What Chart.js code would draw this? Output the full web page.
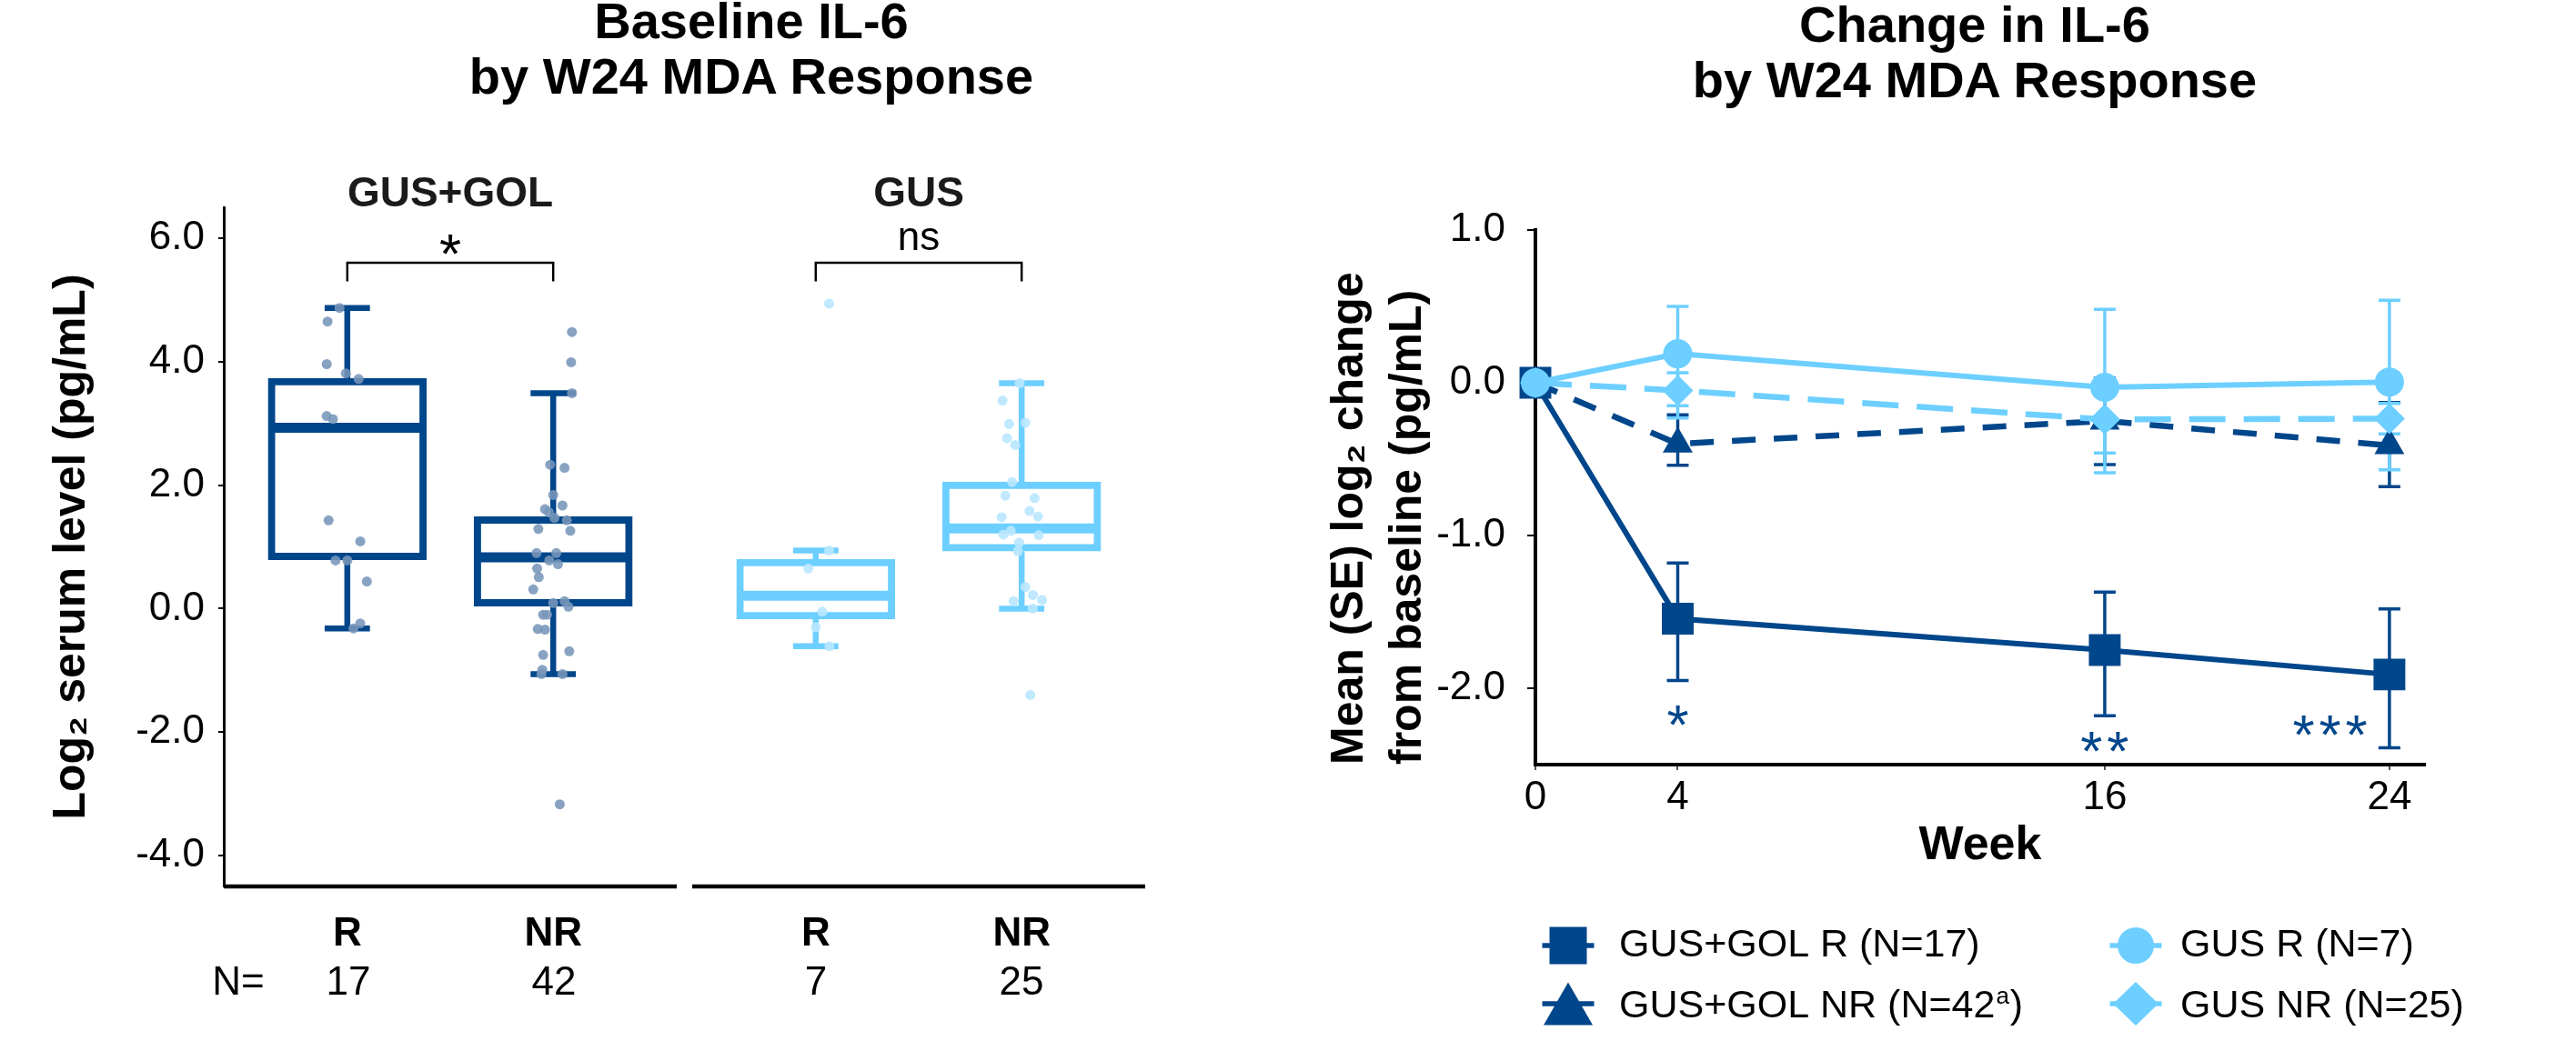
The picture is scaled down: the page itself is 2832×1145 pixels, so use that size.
<!DOCTYPE html>
<html>
<head>
<meta charset="utf-8">
<script src="https://cdn.jsdelivr.net/npm/chart.js"></script>
<style>
html, body { margin: 0; padding: 0; background: #fff; }
#wrap { position: relative; width: 2832px; height: 1145px; overflow: hidden; font-family: "Liberation Sans", Arial, Helvetica, sans-serif; }
.cw { position: absolute; top: 0; height: 1145px; }
.t { position: absolute; white-space: nowrap; transform: translateX(-50%); }
</style>
</head>
<body>
<div id="wrap">
  <div class="cw" style="left:0;width:1400px"><canvas id="cL"></canvas></div>
  <div class="cw" style="left:1400px;width:1432px"><canvas id="cR"></canvas></div>
</div>
<script>
// ---------------- DATA: baseline IL-6 box plots ----------------
const groups = ['GUS+GOL', 'GUS'];
const boxCategories = ['GUS+GOL R', 'GUS+GOL NR', 'GUS R', 'GUS NR'];
const boxResponse = ['R', 'NR', 'R', 'NR'];
const boxGroup = [0, 0, 1, 1];
const boxN = [17, 42, 7, 25];
const boxLow    = [-0.32, -1.06, -0.61, 0.00];
const boxQ1     = [ 0.79,  0.04, -0.17, 0.93];
const boxMedian = [ 2.93,  0.83,  0.21, 1.30];
const boxQ3     = [ 3.73,  1.49,  0.80, 2.05];
const boxHigh   = [ 4.87,  3.49,  0.94, 3.65];
const leftTicks = [-4, -2, 0, 2, 4, 6];

// individual values (y) with horizontal jitter (category units)
const ptsGusGolR_y  = [4.87, 4.65, 3.96, 3.81, 3.72, 3.12, 3.07, 1.43, 1.09, 0.78, 0.78, 0.44, -0.24, -0.32];
const ptsGusGolR_dx = [-0.038, -0.096, -0.10, -0.007, 0.055, -0.10, -0.07, -0.091, 0.063, -0.057, 0.0, 0.095, 0.063, 0.03];
const ptsGusGolNR_y  = [4.48, 3.99, 3.49, 2.33, 2.28, 1.84, 1.67, 1.61, 1.56, 1.47, 1.43, 1.29, 1.26, 0.90, 0.90, 0.78, 0.72, 0.65, 0.51, 0.31, 0.09, 0.12, 0.03, -0.10, -0.10, -0.33, -0.34, -0.69, -0.75, -0.99, -1.06, -1.06, -3.17];
const ptsGusGolNR_dx = [0.091, 0.087, 0.091, -0.015, 0.055, 0.0, 0.045, -0.04, -0.021, 0.006, 0.066, -0.072, 0.083, -0.081, 0.015, -0.019, 0.023, -0.078, -0.07, -0.097, 0.0, 0.055, 0.074, -0.049, -0.03, -0.075, -0.04, 0.078, -0.049, -0.053, -0.057, 0.045, 0.032];
const ptsGusR_y  = [4.94, 0.94, 0.65, -0.05, -0.30, -0.61];
const ptsGusR_dx = [0.065, 0.065, -0.036, 0.032, 0.0, 0.067];
const ptsGusNR_y  = [3.65, 3.37, 2.99, 3.01, 2.76, 2.65, 2.05, 1.83, 1.79, 1.58, 1.49, 1.48, 1.26, 1.20, 1.19, 1.07, 0.93, 0.35, 0.22, 0.14, 0.12, 0.00, -1.40];
const ptsGusNR_dx = [-0.01, -0.093, -0.061, 0.018, -0.071, -0.031, -0.046, -0.079, 0.063, 0.038, 0.079, -0.097, -0.053, -0.089, 0.083, -0.012, -0.018, 0.018, 0.055, 0.099, -0.039, 0.054, 0.042];
const sigLeft = ['*', 'ns'];

// ---------------- DATA: change in IL-6 ----------------
const weeks = [0, 4, 16, 24];
const weekTicks = [0, 4, 16, 24];
const changeTicks = [-2, -1, 0, 1];
const gusGolR    = [0, -1.545, -1.75, -1.91];
const gusGolR_lo = [null, -1.95, -2.18, -2.39];
const gusGolR_hi = [null, -1.18, -1.37, -1.48];
const gusGolNR    = [0, -0.40, -0.25, -0.41];
const gusGolNR_lo = [null, -0.54, -0.535, -0.68];
const gusGolNR_hi = [null, -0.21, 0.03, -0.13];
const gusR    = [0, 0.19, -0.03, 0.005];
const gusR_lo = [null, -0.15, -0.59, -0.57];
const gusR_hi = [null, 0.50, 0.48, 0.54];
const gusNR    = [0, -0.05, -0.24, -0.235];
const gusNR_lo = [null, -0.23, -0.46, -0.335];
const gusNR_hi = [null, 0.065, -0.02, -0.135];
const sigWeekText = ['*', '**', '***'];

// ---------------- STYLE / LAYOUT ----------------
const NAVY = '#00468B';
const SKY = '#6DCFFF';
const NAVY_PT = 'rgba(120,150,186,0.88)';
const SKY_PT = 'rgba(185,231,255,0.9)';
const FONT = '"Liberation Sans", Arial, Helvetica, sans-serif';
Chart.defaults.font.family = FONT;
Chart.defaults.color = '#000';

const FACET_SPAN = 2.2, FACET_GAP = 0.075;
const facetStart = g => g * (FACET_SPAN + FACET_GAP) + 0.4;
const boxPos = boxCategories.map((c, i) => facetStart(boxGroup[i]) + 0.6 + (boxResponse[i] === 'R' ? 0 : 1));
const boxColors = boxGroup.map(g => g === 0 ? NAVY : SKY);
const xMaxL = facetStart(groups.length - 1) + FACET_SPAN;

const ptsY = [ptsGusGolR_y, ptsGusGolNR_y, ptsGusR_y, ptsGusNR_y];
const ptsDx = [ptsGusGolR_dx, ptsGusGolNR_dx, ptsGusR_dx, ptsGusNR_dx];
const ptsData = [], ptsColor = [];
ptsY.forEach((arr, i) => arr.forEach((v, j) => {
  ptsData.push({x: boxPos[i] + ptsDx[i][j], y: v});
  ptsColor.push(boxGroup[i] === 0 ? NAVY_PT : SKY_PT);
}));

function inkText(ctx, text, cx, cy) {
  const m = ctx.measureText(text);
  ctx.fillText(text, cx, cy + (m.actualBoundingBoxAscent - m.actualBoundingBoxDescent) / 2);
}
function stars(ctx, n, cx, cy, pitch) {
  for (let k = 0; k < n; k++) inkText(ctx, '*', cx + (k - (n - 1) / 2) * pitch, cy);
}

// whiskers, caps and medians drawn right after the IQR bars
const boxExtras = {
  id: 'boxExtras',
  afterDatasetDraw(chart, args) {
    if (chart.data.datasets[args.index].type !== 'bar') return;
    const {ctx, scales: {x, y}} = chart;
    const unit = x.getPixelForValue(1) - x.getPixelForValue(0);
    ctx.save();
    ctx.lineCap = 'butt';
    boxCategories.forEach((c, i) => {
      const px = x.getPixelForValue(boxPos[i]);
      ctx.strokeStyle = boxColors[i];
      ctx.lineWidth = 6.5;
      ctx.beginPath();
      ctx.moveTo(px, y.getPixelForValue(boxQ3[i])); ctx.lineTo(px, y.getPixelForValue(boxHigh[i]));
      ctx.moveTo(px, y.getPixelForValue(boxQ1[i])); ctx.lineTo(px, y.getPixelForValue(boxLow[i]));
      const cw = 0.11 * unit;
      ctx.moveTo(px - cw, y.getPixelForValue(boxHigh[i])); ctx.lineTo(px + cw, y.getPixelForValue(boxHigh[i]));
      ctx.moveTo(px - cw, y.getPixelForValue(boxLow[i])); ctx.lineTo(px + cw, y.getPixelForValue(boxLow[i]));
      ctx.stroke();
      const bw = 0.38 * unit;
      ctx.lineWidth = 11;
      ctx.beginPath();
      ctx.moveTo(px - bw, y.getPixelForValue(boxMedian[i])); ctx.lineTo(px + bw, y.getPixelForValue(boxMedian[i]));
      ctx.stroke();
    });
    ctx.restore();
  }
};

const facetAxes = {
  id: 'facetAxes',
  afterDraw(chart) {
    const {ctx, chartArea, scales: {x}} = chart;
    ctx.save();
    ctx.fillStyle = '#000';
    groups.forEach((g, gi) => {
      const x0 = x.getPixelForValue(facetStart(gi));
      const x1 = x.getPixelForValue(facetStart(gi) + FACET_SPAN);
      ctx.fillRect(x0, chartArea.bottom - 2.25, x1 - x0, 4.5);
    });
    ctx.restore();
  }
};

const sigBrackets = {
  id: 'sigBrackets',
  afterDraw(chart) {
    const {ctx, scales: {x, y}} = chart;
    ctx.save();
    ctx.strokeStyle = '#000';
    ctx.fillStyle = '#000';
    ctx.lineWidth = 2.5;
    ctx.textAlign = 'center';
    groups.forEach((g, gi) => {
      const idx = boxGroup.map((v, i) => v === gi ? i : -1).filter(i => i >= 0);
      const x0 = x.getPixelForValue(boxPos[idx[0]]), x1 = x.getPixelForValue(boxPos[idx[1]]);
      const yt = y.getPixelForValue(5.6), yb = y.getPixelForValue(5.3);
      ctx.beginPath();
      ctx.moveTo(x0, yb); ctx.lineTo(x0, yt); ctx.lineTo(x1, yt); ctx.lineTo(x1, yb);
      ctx.stroke();
      const lab = sigLeft[gi];
      if (/^\*+$/.test(lab)) {
        ctx.font = '62px ' + FONT;
        stars(ctx, lab.length, (x0 + x1) / 2, yt - 20, 29);
      } else {
        ctx.font = '44px ' + FONT;
        inkText(ctx, lab, (x0 + x1) / 2, yt - 26);
      }
    });
    ctx.restore();
  }
};

new Chart(document.getElementById('cL'), {
  type: 'bar',
  data: {
    datasets: [
      { type: 'scatter', label: 'Individual values', data: ptsData, backgroundColor: ptsColor,
        pointRadius: 5.5, pointHoverRadius: 5.5, pointBorderWidth: 0, order: 0, clip: false },
      { type: 'bar', label: 'IQR', data: boxCategories.map((c, i) => ({x: boxPos[i], y: [boxQ1[i], boxQ3[i]]})),
        backgroundColor: '#fff', borderColor: boxColors, borderWidth: 8, borderSkipped: false,
        barThickness: 174, grouped: false, order: 1 }
    ]
  },
  options: {
    responsive: true, maintainAspectRatio: false, animation: false, devicePixelRatio: 1, events: [],
    layout: { padding: { left: 0, right: 141, top: 228, bottom: 0 } },
    plugins: { legend: { display: false }, tooltip: { enabled: false }, title: { display: false } },
    scales: {
      x: {
        type: 'linear', min: 0.4, max: xMaxL, offset: false,
        grid: { display: false }, border: { display: false },
        afterBuildTicks: s => { s.ticks = boxPos.map(v => ({value: v})); },
        ticks: { autoSkip: false, maxRotation: 0, padding: 18, color: '#000',
                 font: { size: 44, weight: 'bold' }, callback: (v, i) => boxResponse[i] },
        afterFit: s => { s.height = 170; }
      },
      y: {
        min: -4.5, max: 6.5,
        afterBuildTicks: s => { s.ticks = leftTicks.map(v => ({value: v})); },
        ticks: { padding: 15, color: '#000', font: { size: 44 }, callback: v => v.toFixed(1) },
        grid: { display: true, drawOnChartArea: false, drawTicks: true, tickLength: 6, color: '#000', lineWidth: 2 },
        border: { display: true, color: '#000', width: 3 },
        title: { display: true, text: 'Log\u2082 serum level (pg/mL)', color: '#000',
                 font: { size: 50, weight: 'bold' }, padding: { top: 49, bottom: 0 } },
        afterFit: s => { s.width = 246; }
      }
    }
  },
  plugins: [boxExtras, facetAxes, sigBrackets]
});

// ---------------- right chart ----------------
const errorBars = {
  id: 'errorBars',
  beforeDatasetsDraw(chart) {
    const {ctx, scales: {x, y}} = chart;
    ctx.save();
    ctx.setLineDash([]);
    ctx.lineWidth = 3.5;
    chart.data.datasets.forEach(ds => {
      if (!ds.errLo) return;
      ctx.strokeStyle = ds.borderColor;
      ds.data.forEach((p, i) => {
        const lo = ds.errLo[i], hi = ds.errHi[i];
        if (lo == null || hi == null) return;
        const px = x.getPixelForValue(p.x), p0 = y.getPixelForValue(lo), p1 = y.getPixelForValue(hi);
        ctx.beginPath();
        ctx.moveTo(px, p0); ctx.lineTo(px, p1);
        ctx.moveTo(px - 12, p0); ctx.lineTo(px + 12, p0);
        ctx.moveTo(px - 12, p1); ctx.lineTo(px + 12, p1);
        ctx.stroke();
      });
    });
    ctx.restore();
  }
};

const sigMarks = { x: [4, 16, 22.33], y: [-2.18, -2.35, -2.245] };
const sigStars = {
  id: 'sigStars',
  afterDraw(chart) {
    const {ctx, scales: {x, y}} = chart;
    ctx.save();
    ctx.fillStyle = NAVY;
    ctx.textAlign = 'center';
    ctx.font = '62px ' + FONT;
    sigWeekText.forEach((t, i) => stars(ctx, t.length, x.getPixelForValue(sigMarks.x[i]), y.getPixelForValue(sigMarks.y[i]), 29));
    ctx.restore();
  }
};

const legendOrder = ['GUS+GOL R (N=17)', 'GUS R (N=7)', 'GUS+GOL NR (N=42\u1d43)', 'GUS NR (N=25)'];
const legendBox = { markerX: [324, 948], textX: [380, 997], markerY: [1040, 1104], baseY: [1052, 1119] };
function legendMarker(ctx, style, cx, cy) {
  ctx.beginPath();
  if (style === 'rect') ctx.rect(cx - 20.5, cy - 20.5, 41, 41);
  else if (style === 'triangle') { ctx.moveTo(cx, cy - 23.5); ctx.lineTo(cx + 27, cy + 23.5); ctx.lineTo(cx - 27, cy + 23.5); ctx.closePath(); }
  else if (style === 'circle') ctx.arc(cx, cy, 20, 0, Math.PI * 2);
  else { ctx.moveTo(cx, cy - 24); ctx.lineTo(cx + 25, cy); ctx.lineTo(cx, cy + 24); ctx.lineTo(cx - 25, cy); ctx.closePath(); }
  ctx.fill();
  ctx.fillRect(cx - 28.5, cy - 2.75, 57, 5.5);
}
const customLegend = {
  id: 'customLegend',
  afterDraw(chart) {
    const {ctx} = chart;
    ctx.save();
    legendOrder.forEach((lab, k) => {
      const ds = chart.data.datasets.find(d => d.label === lab);
      if (!ds) return;
      const col = k % 2, row = Math.floor(k / 2);
      ctx.fillStyle = ds.backgroundColor;
      legendMarker(ctx, ds.pointStyle, legendBox.markerX[col], legendBox.markerY[row]);
      ctx.fillStyle = '#000';
      ctx.textAlign = 'left';
      ctx.textBaseline = 'alphabetic';
      let tx = legendBox.textX[col];
      const by = legendBox.baseY[row];
      const parts = lab.split('\u1d43');
      ctx.font = '43px ' + FONT;
      ctx.fillText(parts[0], tx, by);
      tx += ctx.measureText(parts[0]).width;
      if (parts.length > 1) {
        ctx.font = '26px ' + FONT;
        ctx.fillText('a', tx + 1, by - 15);
        tx += ctx.measureText('a').width + 2;
        ctx.font = '43px ' + FONT;
        ctx.fillText(parts[1], tx, by);
      }
    });
    ctx.restore();
  }
};

const pts = arr => weeks.map((w, i) => ({x: w, y: arr[i]}));
new Chart(document.getElementById('cR'), {
  type: 'line',
  data: {
    datasets: [
      { label: 'GUS+GOL R (N=17)', data: pts(gusGolR), errLo: gusGolR_lo, errHi: gusGolR_hi,
        borderColor: NAVY, backgroundColor: NAVY, borderWidth: 6, pointStyle: 'rect', pointRadius: 24.7,
        pointBorderWidth: 0, tension: 0, clip: false, order: 3 },
      { label: 'GUS+GOL NR (N=42\u1d43)', data: pts(gusGolNR), errLo: gusGolNR_lo, errHi: gusGolNR_hi,
        borderColor: NAVY, backgroundColor: NAVY, borderWidth: 6.5, borderDash: [26, 20], pointStyle: 'triangle', pointRadius: 19,
        pointBorderWidth: 0, tension: 0, clip: false, order: 2 },
      { label: 'GUS NR (N=25)', data: pts(gusNR), errLo: gusNR_lo, errHi: gusNR_hi,
        borderColor: SKY, backgroundColor: SKY, borderWidth: 6.5, borderDash: [40, 20], pointStyle: 'rectRot', pointRadius: 17,
        pointBorderWidth: 0, tension: 0, clip: false, order: 1 },
      { label: 'GUS R (N=7)', data: pts(gusR), errLo: gusR_lo, errHi: gusR_hi,
        borderColor: SKY, backgroundColor: SKY, borderWidth: 6, pointStyle: 'circle', pointRadius: 16,
        pointBorderWidth: 0, tension: 0, clip: false, order: 0 }
    ]
  },
  options: {
    responsive: true, maintainAspectRatio: false, animation: false, devicePixelRatio: 1, events: [],
    layout: { padding: { left: 0, right: 166, top: 253, bottom: 0 } },
    plugins: { legend: { display: false }, tooltip: { enabled: false }, title: { display: false } },
    scales: {
      x: {
        type: 'linear', min: 0, max: 25,
        afterBuildTicks: s => { s.ticks = weekTicks.map(v => ({value: v})); },
        ticks: { autoSkip: false, maxRotation: 0, padding: 4, color: '#000', font: { size: 44 }, callback: v => String(v) },
        grid: { display: true, drawOnChartArea: false, drawTicks: true, tickLength: 6, color: '#555', lineWidth: 2 },
        border: { display: true, color: '#000', width: 4 },
        title: { display: true, text: 'Week', color: '#000', font: { size: 52, weight: 'bold' }, padding: { top: 0, bottom: 183 } },
        afterFit: s => { s.height = 304; }
      },
      y: {
        min: -2.5, max: 1,
        afterBuildTicks: s => { s.ticks = changeTicks.map(v => ({value: v})); },
        ticks: { padding: 24, color: '#000', font: { size: 44 }, callback: v => v.toFixed(1) },
        grid: { display: true, drawOnChartArea: false, drawTicks: true, tickLength: 9, color: '#000', lineWidth: 2 },
        border: { display: true, color: '#000', width: 4 },
        title: { display: true, align: 'start', text: ['Mean (SE) log\u2082 change', 'from baseline (pg/mL)'], color: '#000',
                 font: { size: 50, weight: 'bold', lineHeight: 1.28 }, padding: { top: 52, bottom: 0 } },
        afterFit: s => { s.width = 288; }
      }
    }
  },
  plugins: [errorBars, sigStars, customLegend]
});

// ---------------- HTML text (titles, facet labels, N row) ----------------
const wrap = document.getElementById('wrap');
function addText(txt, cx, baseline, size, weight, color) {
  const d = document.createElement('div');
  d.className = 't';
  d.textContent = txt;
  d.style.left = cx + 'px';
  d.style.top = (baseline - 0.8465 * size) + 'px';
  d.style.fontSize = size + 'px';
  d.style.lineHeight = size + 'px';
  d.style.fontWeight = weight;
  d.style.color = color;
  wrap.appendChild(d);
}
addText('Baseline IL-6', 826, 42, 56, 'bold', '#000');
addText('by W24 MDA Response', 826, 103, 56, 'bold', '#000');
addText('Change in IL-6', 2171, 46, 56, 'bold', '#000');
addText('by W24 MDA Response', 2171, 107, 56, 'bold', '#000');
addText(groups[0], 495, 227, 46, 'bold', '#1a1a1a');
addText(groups[1], 1010, 227, 46, 'bold', '#1a1a1a');
addText('N=', 262, 1094, 44, 'normal', '#000');
const nX = [383, 609, 897, 1123];
boxN.forEach((n, i) => addText(String(n), nX[i], 1094, 44, 'normal', '#000'));
</script>
</body>
</html>
